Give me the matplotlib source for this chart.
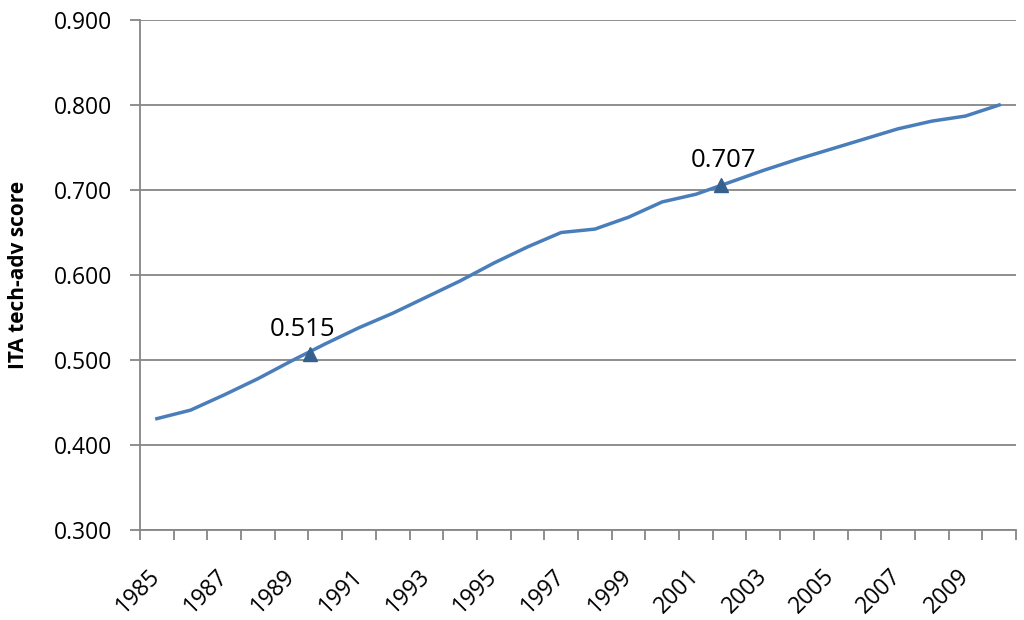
import matplotlib
matplotlib.use("Agg")
import matplotlib.pyplot as plt

years = list(range(1985, 2011))
score = [0.431, 0.441, 0.459, 0.478, 0.499, 0.519, 0.538, 0.555, 0.574, 0.593,
         0.614, 0.633, 0.650, 0.654, 0.668, 0.686, 0.695, 0.709, 0.723, 0.736,
         0.748, 0.760, 0.772, 0.781, 0.787, 0.800]

# highlighted points (position in years, marker value, label)
mark_x = [1989.55, 2001.75]
mark_y = [0.507, 0.706]
mark_lab = ["0.515", "0.707"]

plt.rcParams['font.family'] = ['Open Sans', 'DejaVu Sans']
grey = '#868686'

fig = plt.figure(figsize=(10.24, 6.2), dpi=100)
ax = fig.add_axes([140 / 1024, 1 - 530 / 620, 876 / 1024, 510 / 620])

ax.plot(years, score, color='#4a7ebb', lw=2.5, solid_joinstyle='round', zorder=3)
ax.plot(mark_x, mark_y, ls='none', marker='^', ms=10, color='#36618f', zorder=4)
offs = [(-8, 25), (2, 24)]
for x, y, t, o in zip(mark_x, mark_y, mark_lab, offs):
    ax.annotate(t, (x, y), xytext=o, textcoords='offset pixels',
                ha='center', va='center', fontsize=18.5)

ax.set_xlim(years[0] - 0.5, years[-1] + 0.5)
ax.set_ylim(0.3, 0.9)
ax.set_yticks([0.3 + 0.1 * i for i in range(7)])
ax.set_yticklabels(['%.3f' % (0.3 + 0.1 * i) for i in range(7)], fontsize=16.5)
ax.yaxis.grid(True, color=grey, lw=1.3)
ax.set_axisbelow(True)

ax.set_xticks([y - 0.5 for y in years] + [years[-1] + 0.5])
ax.set_xticklabels([])
ax.set_xticks(years[::2], minor=True)
ax.set_xticklabels([str(y) for y in years[::2]], minor=True, fontsize=16.5,
                   rotation=45, ha='right', va='center', rotation_mode='anchor')
ax.tick_params(axis='x', which='major', length=7, width=1.3, color=grey, direction='out')
ax.tick_params(axis='x', which='minor', length=0, pad=31)
ax.tick_params(axis='y', length=7, width=1.3, color=grey, pad=13)

for s in ['top', 'right']:
    ax.spines[s].set_visible(False)
for s in ['left', 'bottom']:
    ax.spines[s].set_color(grey)
    ax.spines[s].set_linewidth(1.3)

ax.set_ylabel('ITA tech-adv score', fontsize=15, fontweight='bold', labelpad=18)

fig.savefig('out.png', dpi=100)
